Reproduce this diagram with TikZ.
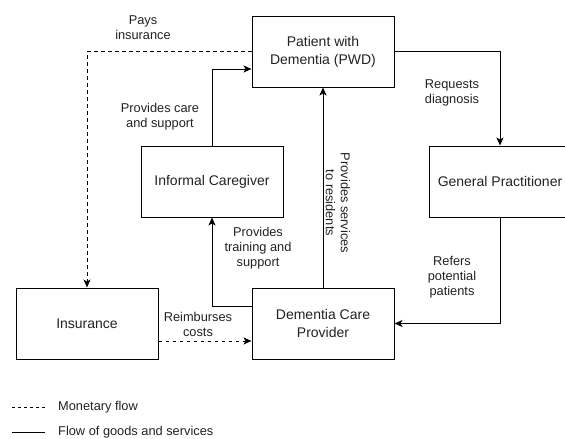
\documentclass[tikz,border=0pt]{standalone}
\usepackage{fontspec}
\setmainfont{Liberation Sans}
\usetikzlibrary{arrows.meta,calc}
\definecolor{ink}{HTML}{222222}
\tikzset{
  box/.style={draw=black,line width=1pt,minimum width=142pt,minimum height=71pt,inner sep=0pt,align=center,text=ink,font=\fontsize{14}{18}\selectfont},
  lbl/.style={align=center,inner sep=0pt,text=ink,font=\fontsize{12.8}{15}\selectfont},
  flow/.style={draw=black,line width=1pt,-{Stealth[length=8pt,width=7pt,inset=2pt]}},
  money/.style={flow,dash pattern=on 3.5pt off 3.5pt},
}
\begin{document}
\begin{tikzpicture}[x=1pt,y=-1pt]
\useasboundingbox (0,0) rectangle (565,439);
\clip (0,0) rectangle (565,439);
\node[box] (pwd) at (323,51.5) {Patient with\\Dementia (PWD)};
\node[box] (gp) at (500,181.5) {General Practitioner};
\node[box] (ic) at (212,181.5) {Informal Caregiver};
\node[box] (dcp) at (323,323.5) {Dementia Care\\Provider};
\node[box] (ins) at (87,323.5) {Insurance};

\draw[flow] (pwd.east) -| (gp.north);
\draw[flow] (gp.south) |- (dcp.east);
\draw[flow] (ic.north) |- ($(pwd.west)+(0,17.5)$);
\draw[money] (pwd.west) -| (ins.north);
\draw[flow] (dcp.north) -- (pwd.south);
\draw[flow] ($(dcp.west)+(0,-17.5)$) -| (ic.south);
\draw[money] ($(ins.east)+(0,17.5)$) -- ($(dcp.west)+(0,17.5)$);

\node[lbl] (pays) at (143,28) {Pays\\insurance};
\node[lbl] (care) at (160,117) {Provides care\\and support};
\node[lbl] (req) at (452,93) {Requests\\diagnosis};
\node[lbl,rotate=-90] (serv) at (338,203) {Provides services\\to residents};
\node[lbl] (train) at (258,248) {Provides\\training and\\support};
\node[lbl] (refer) at (452,277) {Refers\\potential\\patients};
\node[lbl] (reimb) at (198,324.5) {Reimburses\\costs};

\coordinate (m1) at (12,407);
\coordinate (m2) at (45,407);
\coordinate (g1) at (12,432);
\coordinate (g2) at (45,432);
\draw[line width=0.8pt,dash pattern=on 3pt off 3pt] (m1) -- (m2);
\draw[line width=0.8pt] (g1) -- (g2);
\node[lbl,anchor=west] (mt) at (58,407) {Monetary flow};
\node[lbl,anchor=west] (gt) at (58,432) {Flow of goods and services};
\end{tikzpicture}
\end{document}
